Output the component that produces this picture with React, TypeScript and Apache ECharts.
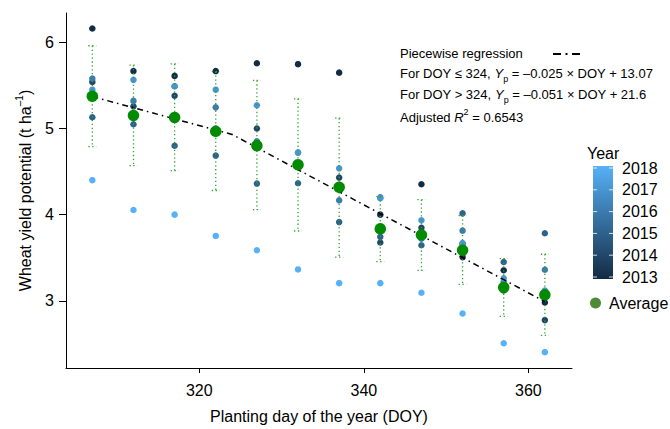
import React, { useEffect, useRef } from "react";
import * as echarts from "echarts";

const FONT = '"Liberation Sans", Arial, Helvetica, sans-serif';

// Planting day of year (x categories)
const doy = [307, 312, 317, 322, 327, 332, 337, 342, 347, 352, 357, 362];
const years = [2013, 2014, 2015, 2016, 2017, 2018];

// Wheat yield potential per year (t/ha)
const y2013 = [6.16, 5.666, 5.61, 5.666, 5.757, 5.746, 5.648, 4.0, 4.352, 3.507, 3.355, 2.98];
const y2014 = [5.54, 5.257, 5.38, 5.0, 5.0, 4.57, 4.43, 3.677, 3.848, 3.66, 3.12, 2.776];
const y2015 = [5.13, 5.049, 4.8, 4.685, 4.36, 4.364, 3.913, 3.742, 3.644, 4.015, 3.45, 3.784];
const y2016 = [5.58, 5.32, 5.49, 5.245, 4.85, 4.72, 4.166, 4.2, 3.72, 3.814, 3.22, 3.36];
const y2017 = [5.45, 5.564, 5.49, 5.45, 5.27, 4.72, 4.537, 4.19, 3.935, 3.67, 3.26, 3.12];
const y2018 = [4.4, 4.053, 4.0, 3.753, 3.587, 3.364, 3.205, 3.205, 3.094, 2.852, 2.507, 2.404];
const yearValues = [y2013, y2014, y2015, y2016, y2017, y2018];

// Averages and error bar bounds (mean ± SD)
const avg = [5.375, 5.151, 5.128, 4.966, 4.8, 4.58, 4.318, 3.836, 3.765, 3.587, 3.155, 3.07];
const errLow = [4.79, 4.568, 4.51, 4.28, 4.057, 3.81, 3.507, 3.455, 3.352, 3.19, 2.818, 2.598];
const errHigh = [5.96, 5.735, 5.75, 5.66, 5.557, 5.344, 5.12, 4.21, 4.174, 3.99, 3.49, 3.54];

// Piecewise regression line (DOY, yield)
const regDoy = [307, 324, 362];
const regYield = [5.37, 4.93, 2.99];

const xTicks = [320, 340, 360];
const yTicks = [3, 4, 5, 6];

export default function App() {
  const ref = useRef<HTMLDivElement>(null);

  useEffect(() => {
    if (!ref.current) return;
    const chart = echarts.init(ref.current, null, { renderer: "svg" });

    const pointData: number[][] = [];
    years.forEach((yr, yi) => {
      doy.forEach((d, i) => pointData.push([d, yearValues[yi][i], yr]));
    });

    const textBase = { fontFamily: FONT, fill: "#000" };
    const rich = {
      n: { fontSize: 13, lineHeight: 20, fontFamily: FONT, color: "#000" },
      i: { fontSize: 13, lineHeight: 20, fontStyle: "italic", fontFamily: FONT, color: "#000" },
      sub: { fontSize: 9, lineHeight: 9, verticalAlign: "bottom", fontFamily: FONT, color: "#000" },
      sup: { fontSize: 9, lineHeight: 9, verticalAlign: "top", fontFamily: FONT, color: "#000" },
    };

    const barTop = 166;
    const barBottom = 279;
    const yrY = (yr: number) => 277 - (yr - 2013) * 21.8;

    const graphic: any[] = [
      {
        type: "text", x: 400, y: 53,
        style: { ...textBase, text: "Piecewise regression", fontSize: 13, verticalAlign: "middle" },
      },
      {
        type: "line", shape: { x1: 553, y1: 54, x2: 584, y2: 54 },
        style: { stroke: "#000", lineWidth: 2, lineDash: [8, 4.5, 2, 4.5] },
      },
      {
        type: "text", x: 400, y: 73,
        style: {
          ...textBase, fontSize: 13, lineHeight: 20, verticalAlign: "middle", rich,
          text: "{n|For DOY ≤ 324, }{i|Y}{sub|p}{n| = –0.025 × DOY + 13.07}",
        },
      },
      {
        type: "text", x: 400, y: 94.5,
        style: {
          ...textBase, fontSize: 13, lineHeight: 20, verticalAlign: "middle", rich,
          text: "{n|For DOY > 324, }{i|Y}{sub|p}{n| = –0.051 × DOY + 21.6}",
        },
      },
      {
        type: "text", x: 400, y: 117,
        style: {
          ...textBase, fontSize: 13, lineHeight: 20, verticalAlign: "middle", rich,
          text: "{n|Adjusted }{i|R}{sup|2}{n| = 0.6543}",
        },
      },
      {
        type: "text", x: 587, y: 153,
        style: { ...textBase, text: "Year", fontSize: 16, verticalAlign: "middle" },
      },
      {
        type: "rect", shape: { x: 593, y: barTop, width: 20, height: barBottom - barTop },
        style: {
          fill: new echarts.graphic.LinearGradient(0, 0, 0, 1, [
            { offset: 0, color: "#56B1F7" },
            { offset: 1, color: "#132B43" },
          ]),
        },
      },
      {
        type: "circle", shape: { cx: 595.5, cy: 303, r: 5.5 },
        style: { fill: "#4E8B36" },
      },
      {
        type: "text", x: 609, y: 303,
        style: { ...textBase, text: "Average", fontSize: 16, verticalAlign: "middle" },
      },
    ];
    years.forEach((yr) => {
      const y = yrY(yr);
      graphic.push({
        type: "line", shape: { x1: 593, y1: y, x2: 597, y2: y },
        style: { stroke: "#fff", lineWidth: 1, opacity: 0.8 },
      });
      graphic.push({
        type: "line", shape: { x1: 609, y1: y, x2: 613, y2: y },
        style: { stroke: "#fff", lineWidth: 1, opacity: 0.8 },
      });
      graphic.push({
        type: "text", x: 622, y,
        style: { ...textBase, text: String(yr), fontSize: 16, verticalAlign: "middle" },
      });
    });

    chart.setOption({
      animation: false,
      backgroundColor: "#fff",
      textStyle: { fontFamily: FONT },
      grid: { left: 66, top: 13, right: 98, bottom: 53, containLabel: false },
      xAxis: {
        type: "value",
        min: 303.8,
        max: 365.3,
        axisLine: { show: true, onZero: false, lineStyle: { color: "#000", width: 1 } },
        axisTick: { show: true, length: 5, customValues: xTicks, lineStyle: { color: "#000" } },
        axisLabel: { customValues: xTicks, fontSize: 16, color: "#000", margin: 14, fontFamily: FONT },
        splitLine: { show: false },
        name: "Planting day of the year (DOY)",
        nameLocation: "middle",
        nameGap: 40,
        nameTextStyle: { fontSize: 16, color: "#000", fontFamily: FONT },
      },
      yAxis: {
        type: "value",
        min: 2.22,
        max: 6.34,
        axisLine: { show: true, onZero: false, lineStyle: { color: "#000", width: 1 } },
        axisTick: { show: true, length: 7, customValues: yTicks, lineStyle: { color: "#000" } },
        axisLabel: { customValues: yTicks, fontSize: 16, color: "#000", margin: 12, fontFamily: FONT },
        splitLine: { show: false },
        name: "{n|Wheat yield potential (t ha}{s|–1}{n|)}",
        nameLocation: "middle",
        nameGap: 30,
        nameTextStyle: {
          fontSize: 16,
          color: "#000",
          fontFamily: FONT,
          rich: {
            n: { fontSize: 16, lineHeight: 22, color: "#000", fontFamily: FONT },
            s: { fontSize: 10, lineHeight: 10, verticalAlign: "top", color: "#000", fontFamily: FONT },
          },
        },
      },
      visualMap: {
        type: "continuous",
        show: false,
        min: 2013,
        max: 2018,
        dimension: 2,
        seriesIndex: 0,
        inRange: { color: ["#132B43", "#56B1F7"] },
      },
      graphic,
      series: [
        {
          type: "scatter",
          data: pointData,
          symbolSize: 6.5,
          z: 2,
          itemStyle: { opacity: 1 },
          encode: { x: 0, y: 1 },
        },
        {
          type: "custom",
          z: 3,
          data: doy.map((d, i) => [d, errLow[i], errHigh[i]]),
          encode: { x: 0, y: [1, 2] },
          renderItem: (params: any, api: any) => {
            const x = api.value(0);
            const top = api.coord([x, api.value(2)]);
            const bot = api.coord([x, api.value(1)]);
            const style = { stroke: "#2FA52F", lineWidth: 1.3, lineDash: [1.3, 2.6], fill: null };
            return {
              type: "group",
              children: [
                { type: "line", shape: { x1: top[0], y1: top[1], x2: bot[0], y2: bot[1] }, style },
                { type: "line", shape: { x1: top[0] - 4, y1: top[1], x2: top[0] + 4, y2: top[1] }, style },
                { type: "line", shape: { x1: bot[0] - 4, y1: bot[1], x2: bot[0] + 4, y2: bot[1] }, style },
              ],
            };
          },
        },
        {
          type: "line",
          z: 4,
          data: regDoy.map((d, i) => [d, regYield[i]]),
          showSymbol: false,
          symbol: "none",
          lineStyle: { color: "#000", width: 1.5, type: [6, 4, 1.5, 4] },
        },
        {
          type: "scatter",
          z: 5,
          data: doy.map((d, i) => [d, avg[i]]),
          symbolSize: 11.5,
          itemStyle: { color: "#008B00", opacity: 1 },
        },
      ],
    });

    return () => chart.dispose();
  }, []);

  return (
    <div
      ref={ref}
      style={{ position: "absolute", left: 0, top: 0, width: 670, height: 429 }}
    />
  );
}
